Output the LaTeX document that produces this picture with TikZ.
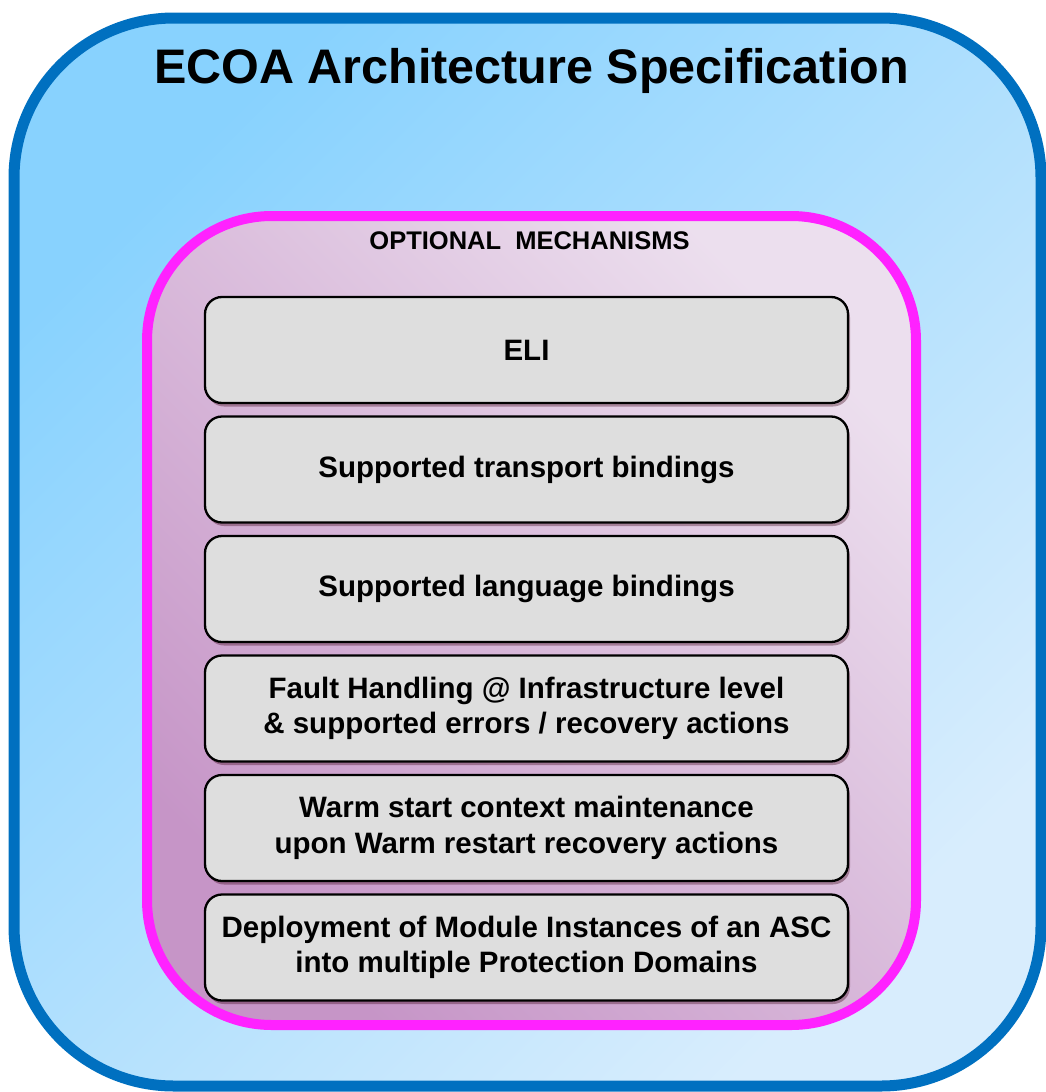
\documentclass[tikz,border=0pt]{standalone}
\usepackage{fontspec}
\setmainfont{Liberation Sans}
\usetikzlibrary{shadows}
\definecolor{outerline}{HTML}{0070C0}
\definecolor{outerA}{HTML}{88D2FE}
\definecolor{outerB}{HTML}{D8EDFD}
\definecolor{innerline}{HTML}{FF22FF}
\definecolor{innerA}{HTML}{ECDFEE}
\definecolor{innerB}{HTML}{C695C7}
\definecolor{boxfill}{HTML}{DEDEDE}
\tikzset{
  outerbox/.style={draw=outerline, line width=11pt, rounded corners=160pt,
    shading=axis, top color=outerA, bottom color=outerB, shading angle=45,
    minimum width=1027pt, minimum height=1068pt, inner sep=0pt},
  innerbox/.style={draw=innerline, line width=10pt, rounded corners=125pt,
    shading=axis, top color=innerA, bottom color=innerB, shading angle=-45,
    minimum width=769pt, minimum height=809pt, inner sep=0pt},
  itembox/.style={draw=black, line width=2.3pt, fill=boxfill, rounded corners=17pt,
    minimum width=643pt, minimum height=106pt, inner sep=0pt, align=center,
    font=\bfseries\fontsize{29.5}{35.4}\selectfont,
    drop shadow={shadow xshift=2pt, shadow yshift=-3.5pt, opacity=0.35, fill=black!70!purple}},
  titletext/.style={font=\bfseries\fontsize{48.5}{58}\selectfont, inner sep=0pt},
  headtext/.style={font=\bfseries\fontsize{25.5}{30}\selectfont, inner sep=0pt},
}
\begin{document}
\begin{tikzpicture}[x=1pt,y=-1pt]
\useasboundingbox (0,0) rectangle (1046,1092);
\node[outerbox] (outer) at (527.5,552) {};
\node[titletext] (title) at (531.5,71) {ECOA Architecture Specification};
\node[innerbox] (inner) at (531.5,620.5) {};
\node[headtext] (head) at (529.5,241) {OPTIONAL\ \ MECHANISMS};
\node[itembox] (eli) at (526.5,350) {ELI};
\node[itembox] (transport) at (526.5,469.5) {Supported transport bindings};
\node[itembox] (language) at (526.5,589) {Supported language bindings};
\node[itembox] (fault) at (526.5,708.5) {Fault Handling @ Infrastructure level\\\& supported errors / recovery actions};
\node[itembox] (warm) at (526.5,828) {Warm start context maintenance\\upon Warm restart recovery actions};
\node[itembox] (deploy) at (526.5,947.5) {Deployment of Module Instances of an ASC\\into multiple Protection Domains};
\end{tikzpicture}
\end{document}
